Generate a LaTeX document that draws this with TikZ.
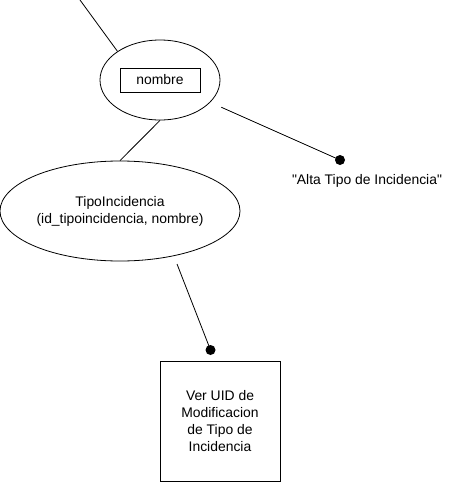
\documentclass[tikz,border=0pt]{standalone}
\usepackage{fontspec}
\setmainfont{Liberation Sans}
\usetikzlibrary{shapes.geometric}
\begin{document}
\begin{tikzpicture}[x=1pt,y=-1pt,
  every node/.style={font=\fontsize{13.9}{17}\selectfont},
  lw/.style={line width=0.8pt},
  ell/.style={ellipse,draw,lw,inner sep=0pt},
  box/.style={rectangle,draw,lw,inner sep=0pt,align=center},
  dot/.style={circle,fill=black,inner sep=0pt,minimum size=10pt},
  lbl/.style={inner sep=0pt,align=center}]
\useasboundingbox (0,0) rectangle (462,482);
\node[ell,minimum width=120pt,minimum height=80pt] (e1) at (160,80) {};
\node[box,minimum width=80pt,minimum height=24pt] (nb) at (160,80) {nombre};
\node[ell,minimum width=240pt,minimum height=100pt,align=center] (e2) at (120,211) {TipoIncidencia\\(id\_tipoincidencia, nombre)};
\node[dot] (d1) at (340,160) {};
\node[lbl] (alta) at (367,181) {\textquotedbl Alta Tipo de Incidencia\textquotedbl};
\node[dot] (d2) at (210.5,350) {};
\node[box,minimum width=120pt,minimum height=120pt] (r) at (220,421) {Ver UID de\\Modificacion\\de Tipo de\\Incidencia};
\coordinate (c0) at (80,0);
\coordinate (s2) at (177,264);
\draw[lw] (c0) -- (e1.146);
\draw[lw] (e1.south) -- (e2.north);
\draw[lw,shorten <=12pt] (e1) -- (d1.center);
\draw[lw] (s2) -- (d2.center);
\end{tikzpicture}
\end{document}
